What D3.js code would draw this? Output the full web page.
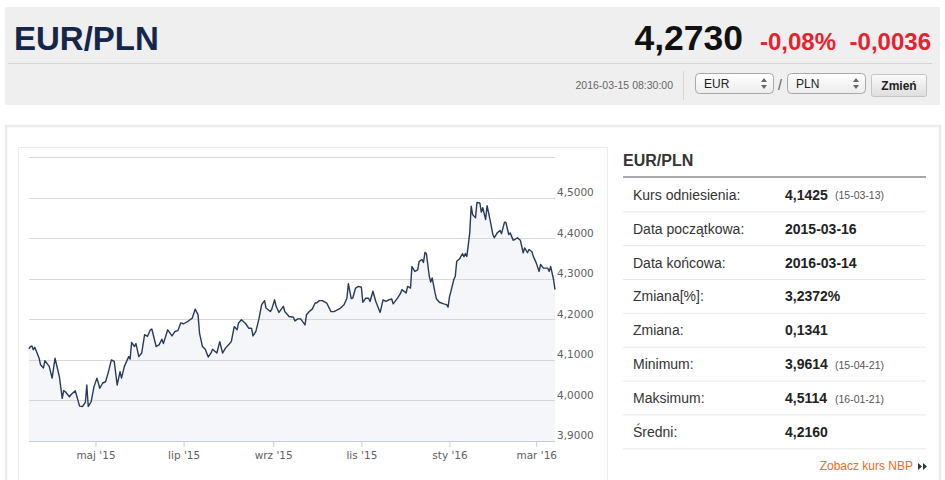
<!DOCTYPE html>
<html lang="pl">
<head>
<meta charset="UTF-8">
<title>EUR/PLN</title>
<script src="https://cdn.jsdelivr.net/npm/d3@7"></script>
<style>
  body { margin: 0; background: #fff; }
  svg { display: block; font-family: "Liberation Sans", Arial, sans-serif; }
</style>
</head>
<body>
<script>
// kurs EUR/PLN
var dates = [
  "2015-03-16","2015-03-17","2015-03-18","2015-03-19","2015-03-20","2015-03-23","2015-03-24","2015-03-26","2015-03-27","2015-03-30",
  "2015-04-01","2015-04-03","2015-04-06","2015-04-08","2015-04-09","2015-04-10","2015-04-13","2015-04-14","2015-04-17","2015-04-20",
  "2015-04-22","2015-04-24","2015-04-25","2015-04-26","2015-04-28","2015-04-30","2015-05-02","2015-05-04","2015-05-06","2015-05-08",
  "2015-05-10","2015-05-12","2015-05-14","2015-05-16","2015-05-18","2015-05-19","2015-05-21","2015-05-24","2015-05-25","2015-05-26",
  "2015-05-28","2015-05-29","2015-05-31","2015-06-02","2015-06-04","2015-06-06","2015-06-08","2015-06-09","2015-06-12","2015-06-14",
  "2015-06-16","2015-06-17","2015-06-20","2015-06-23","2015-06-25","2015-06-27","2015-06-29","2015-07-01","2015-07-04","2015-07-07",
  "2015-07-09","2015-07-11","2015-07-12","2015-07-14","2015-07-16","2015-07-18","2015-07-20","2015-07-21","2015-07-24","2015-07-26",
  "2015-07-28","2015-07-30","2015-08-02","2015-08-03","2015-08-05","2015-08-07","2015-08-08","2015-08-10","2015-08-13","2015-08-15",
  "2015-08-17","2015-08-18","2015-08-20","2015-08-22","2015-08-24","2015-08-26","2015-08-27","2015-08-30","2015-08-31","2015-09-02",
  "2015-09-03","2015-09-05","2015-09-08","2015-09-09","2015-09-12","2015-09-15","2015-09-16","2015-09-18","2015-09-20","2015-09-23",
  "2015-09-24","2015-09-26","2015-09-28","2015-09-30","2015-10-01","2015-10-03","2015-10-05","2015-10-08","2015-10-11","2015-10-13",
  "2015-10-17","2015-10-20","2015-10-22","2015-10-23","2015-10-25","2015-10-26","2015-10-28","2015-10-30","2015-11-01","2015-11-02",
  "2015-11-04","2015-11-06","2015-11-07","2015-11-09","2015-11-11","2015-11-14","2015-11-16","2015-11-18","2015-11-20","2015-11-22",
  "2015-11-23","2015-11-26","2015-11-28","2015-11-29","2015-12-02","2015-12-03","2015-12-05","2015-12-06","2015-12-08","2015-12-10",
  "2015-12-11","2015-12-13","2015-12-14","2015-12-15","2015-12-16","2015-12-18","2015-12-19","2015-12-20","2015-12-22","2015-12-23",
  "2015-12-25","2015-12-28","2015-12-30","2015-12-31","2016-01-01","2016-01-02","2016-01-04","2016-01-05","2016-01-06","2016-01-08",
  "2016-01-10","2016-01-11","2016-01-12","2016-01-13","2016-01-15","2016-01-16","2016-01-17","2016-01-19","2016-01-20","2016-01-22",
  "2016-01-23","2016-01-24","2016-01-26","2016-01-27","2016-01-29","2016-01-31","2016-02-01","2016-02-03","2016-02-05","2016-02-06",
  "2016-02-08","2016-02-09","2016-02-11","2016-02-12","2016-02-14","2016-02-15","2016-02-17","2016-02-19","2016-02-21","2016-02-22",
  "2016-02-24","2016-02-25","2016-02-27","2016-02-28","2016-03-01","2016-03-03","2016-03-04","2016-03-06","2016-03-09","2016-03-10",
  "2016-03-11","2016-03-13","2016-03-14"
];
var rates = [
  4.127,4.133,4.134,4.125,4.131,4.104,4.088,4.080,4.098,4.084,
  4.055,4.104,4.059,4.005,4.024,4.022,4.009,4.014,4.024,3.986,
  3.985,3.995,4.038,3.985,3.997,4.034,4.055,4.030,4.043,4.046,
  4.071,4.100,4.096,4.038,4.071,4.055,4.084,4.108,4.102,4.143,
  4.133,4.140,4.108,4.117,4.162,4.158,4.174,4.176,4.133,4.137,
  4.151,4.140,4.174,4.159,4.170,4.172,4.191,4.189,4.195,4.203,
  4.225,4.211,4.166,4.133,4.126,4.107,4.117,4.126,4.117,4.145,
  4.117,4.129,4.141,4.145,4.182,4.174,4.191,4.199,4.189,4.178,
  4.178,4.159,4.170,4.199,4.236,4.246,4.228,4.219,4.225,4.248,
  4.232,4.217,4.232,4.219,4.207,4.205,4.196,4.201,4.201,4.186,
  4.211,4.219,4.225,4.240,4.240,4.246,4.246,4.240,4.219,4.219,
  4.226,4.236,4.252,4.288,4.251,4.252,4.277,4.281,4.279,4.242,
  4.252,4.252,4.244,4.269,4.244,4.217,4.248,4.244,4.248,4.250,
  4.238,4.252,4.263,4.273,4.265,4.281,4.277,4.330,4.318,4.322,
  4.343,4.347,4.340,4.365,4.362,4.306,4.292,4.302,4.265,4.250,
  4.242,4.238,4.236,4.230,4.256,4.269,4.298,4.306,4.343,4.349,
  4.362,4.354,4.362,4.355,4.413,4.479,4.458,4.450,4.488,4.487,
  4.464,4.475,4.446,4.480,4.446,4.409,4.401,4.413,4.419,4.411,
  4.439,4.439,4.409,4.413,4.395,4.396,4.401,4.395,4.364,4.376,
  4.364,4.372,4.367,4.355,4.339,4.318,4.335,4.326,4.326,4.318,
  4.330,4.298,4.273
];
var xTickDates = ["2015-05-01","2015-07-01","2015-09-01","2015-11-01","2016-01-01","2016-03-01"];
var xTickLabels = ["maj '15","lip '15","wrz '15","lis '15","sty '16","mar '16"];
var yTicks = [3.9, 4.0, 4.1, 4.2, 4.3, 4.4, 4.5, 4.6];

var statLabels = ["Kurs odniesienia:","Data początkowa:","Data końcowa:","Zmiana[%]:","Zmiana:","Minimum:","Maksimum:","Średni:"];
var statValues = ["4,1425","2015-03-16","2016-03-14","3,2372%","0,1341","3,9614","4,5114","4,2160"];
var statNotes  = ["(15-03-13)","","","","","(15-04-21)","(16-01-21)",""];

var W = 945, H = 480;
var svg = d3.select("body").append("svg")
    .attr("width", W)
    .attr("height", H);

var defs = svg.append("defs");
var g1 = defs.append("linearGradient").attr("id", "selGrad").attr("x1", 0).attr("y1", 0).attr("x2", 0).attr("y2", 1);
g1.append("stop").attr("offset", "0%").attr("stop-color", "#ffffff");
g1.append("stop").attr("offset", "100%").attr("stop-color", "#ececec");
var g2 = defs.append("linearGradient").attr("id", "btnGrad").attr("x1", 0).attr("y1", 0).attr("x2", 0).attr("y2", 1);
g2.append("stop").attr("offset", "0%").attr("stop-color", "#fbfbfb");
g2.append("stop").attr("offset", "100%").attr("stop-color", "#dedede");

// ---------- naglowek ----------
svg.append("rect").attr("x", 5).attr("y", 7).attr("width", 935).attr("height", 98).attr("fill", "#efefef");
svg.append("text").attr("x", 14).attr("y", 50)
    .attr("font-size", 33).attr("font-weight", "bold").attr("fill", "#14264a")
    .text("EUR/PLN");

svg.append("text").attr("x", 931).attr("y", 50).attr("text-anchor", "end")
    .attr("font-size", 24).attr("font-weight", "bold").attr("fill", "#e8212e")
    .text("-0,0036");
svg.append("text").attr("x", 836).attr("y", 50).attr("text-anchor", "end")
    .attr("font-size", 24).attr("font-weight", "bold").attr("fill", "#e8212e")
    .text("-0,08%");
svg.append("text").attr("x", 743).attr("y", 50).attr("text-anchor", "end")
    .attr("font-size", 35.5).attr("font-weight", "bold").attr("fill", "#111")
    .text("4,2730");

svg.append("line").attr("x1", 8).attr("x2", 932).attr("y1", 63.5).attr("y2", 63.5)
    .attr("stroke", "#d4d4d4");
svg.append("text").attr("x", 673).attr("y", 88.5).attr("text-anchor", "end")
    .attr("font-size", 10.5).attr("fill", "#666")
    .text("2016-03-15 08:30:00");
svg.append("line").attr("x1", 683.5).attr("x2", 683.5).attr("y1", 71).attr("y2", 100)
    .attr("stroke", "#d6d6d6");

function selectBox(x, label) {
    var s = svg.append("g").attr("transform", "translate(" + x + ",73)");
    s.append("rect").attr("x", 0.5).attr("y", 0.5).attr("width", 78).attr("height", 20).attr("rx", 4)
        .attr("fill", "url(#selGrad)").attr("stroke", "#a8a8a8");
    s.append("text").attr("x", 9).attr("y", 14.5).attr("font-size", 12).attr("fill", "#222").text(label);
    s.append("path").attr("d", "M66,9 L69,5 L72,9 Z M66,12 L69,16 L72,12 Z").attr("fill", "#666");
}
selectBox(695, "EUR");
svg.append("text").attr("x", 780).attr("y", 90).attr("text-anchor", "middle")
    .attr("font-size", 14).attr("fill", "#555").text("/");
selectBox(787, "PLN");

svg.append("rect").attr("x", 871.5).attr("y", 74.5).attr("width", 55).attr("height", 22).attr("rx", 2)
    .attr("fill", "url(#btnGrad)").attr("stroke", "#c4c4c4");
svg.append("text").attr("x", 899).attr("y", 90).attr("text-anchor", "middle")
    .attr("font-size", 12).attr("font-weight", "bold").attr("fill", "#222").text("Zmień");

// ---------- panel glowny ----------
svg.append("rect").attr("x", 6).attr("y", 126).attr("width", 934).attr("height", 360)
    .attr("fill", "#fff").attr("stroke", "#ececec").attr("stroke-width", 2.5);
svg.append("rect").attr("x", 18.5).attr("y", 147.5).attr("width", 589).attr("height", 340)
    .attr("fill", "#fff").attr("stroke", "#ececec");

// ---------- wykres ----------
var parse = d3.utcParse("%Y-%m-%d");
var series = dates.map(function(d, i) { return { date: parse(d), value: rates[i] }; });

var x = d3.scaleUtc()
    .domain(d3.extent(series, function(d) { return d.date; }))
    .range([29, 555]);
var y = d3.scaleLinear()
    .domain([3.9, 4.6])
    .range([441, 157]);

var fmt = function(v) { return d3.format(".4f")(v).replace(".", ","); };

var grid = svg.append("g");
grid.selectAll("line").data(yTicks.filter(function(t) { return t > 3.9; })).enter().append("line")
    .attr("x1", 29).attr("x2", 555)
    .attr("y1", function(d) { return Math.round(y(d)) + 0.5; })
    .attr("y2", function(d) { return Math.round(y(d)) + 0.5; })
    .attr("stroke", "#d8d8d8");

var area = d3.area()
    .x(function(d) { return x(d.date); })
    .y0(y(3.9))
    .y1(function(d) { return y(d.value); });
var line = d3.line()
    .x(function(d) { return x(d.date); })
    .y(function(d) { return y(d.value); });

svg.append("path").datum(series).attr("d", area).attr("fill", "#f4f6f9");
grid.raise();
svg.append("path").datum(series).attr("d", line)
    .attr("fill", "none").attr("stroke", "#263a5a").attr("stroke-width", 1.4)
    .attr("stroke-linejoin", "round");

// os Y po prawej
var yAxis = d3.axisRight(y)
    .tickValues(yTicks.filter(function(t) { return t < 4.55; }))
    .tickSize(0)
    .tickPadding(2)
    .tickFormat(fmt);
var gy = svg.append("g").attr("transform", "translate(555,0)").call(yAxis);
gy.select(".domain").remove();
gy.selectAll("text")
    .attr("dy", "-0.2em")
    .attr("font-family", "DejaVu Sans, sans-serif")
    .attr("font-size", 10.5)
    .attr("fill", "#606060");

// os X
var xAxis = d3.axisBottom(x)
    .tickValues(xTickDates.map(parse))
    .tickSize(6)
    .tickPadding(5)
    .tickFormat(function(d, i) { return xTickLabels[i]; });
var gx = svg.append("g").attr("transform", "translate(0,441)").call(xAxis);
gx.select(".domain").attr("d", "M29,0.5H555").attr("stroke", "#c0d0e0");
gx.selectAll(".tick line").attr("stroke", "#c0d0e0");
gx.selectAll("text")
    .attr("font-family", "DejaVu Sans, sans-serif")
    .attr("font-size", 10.5)
    .attr("fill", "#606060");

// ---------- tabela ----------
svg.append("text").attr("x", 623).attr("y", 166)
    .attr("font-size", 16).attr("font-weight", "bold").attr("fill", "#333")
    .text("EUR/PLN");
svg.append("line").attr("x1", 623).attr("x2", 926).attr("y1", 177).attr("y2", 177)
    .attr("stroke", "#a8a8a8").attr("stroke-width", 2);

var rowY = d3.scaleLinear().domain([0, 8]).range([178.4, 449.3]);
var rows = svg.append("g").selectAll("g").data(statLabels).enter().append("g")
    .attr("transform", function(d, i) { return "translate(0," + rowY(i) + ")"; });
rows.append("line")
    .attr("x1", 623).attr("x2", 926)
    .attr("y1", function(d, i) { return rowY(i + 1) - rowY(i) - 0.5; })
    .attr("y2", function(d, i) { return rowY(i + 1) - rowY(i) - 0.5; })
    .attr("stroke", "#e8e8e8");
rows.append("text").attr("x", 633).attr("y", 21.5)
    .attr("font-size", 14).attr("fill", "#333")
    .text(function(d) { return d; });
rows.append("text").attr("x", 785).attr("y", 21.5)
    .attr("font-size", 14).attr("font-weight", "bold").attr("fill", "#222")
    .text(function(d, i) { return statValues[i]; });
rows.append("text").attr("x", 835).attr("y", 21)
    .attr("font-size", 10.5).attr("fill", "#555")
    .text(function(d, i) { return statNotes[i]; });

svg.append("text").attr("x", 913).attr("y", 470).attr("text-anchor", "end")
    .attr("font-size", 12).attr("fill", "#f26a21")
    .text("Zobacz kurs NBP");
svg.append("path").attr("d", "M918,463 L922,466.5 L918,470 Z M923,463 L927,466.5 L923,470 Z")
    .attr("fill", "#333");
</script>
</body>
</html>
